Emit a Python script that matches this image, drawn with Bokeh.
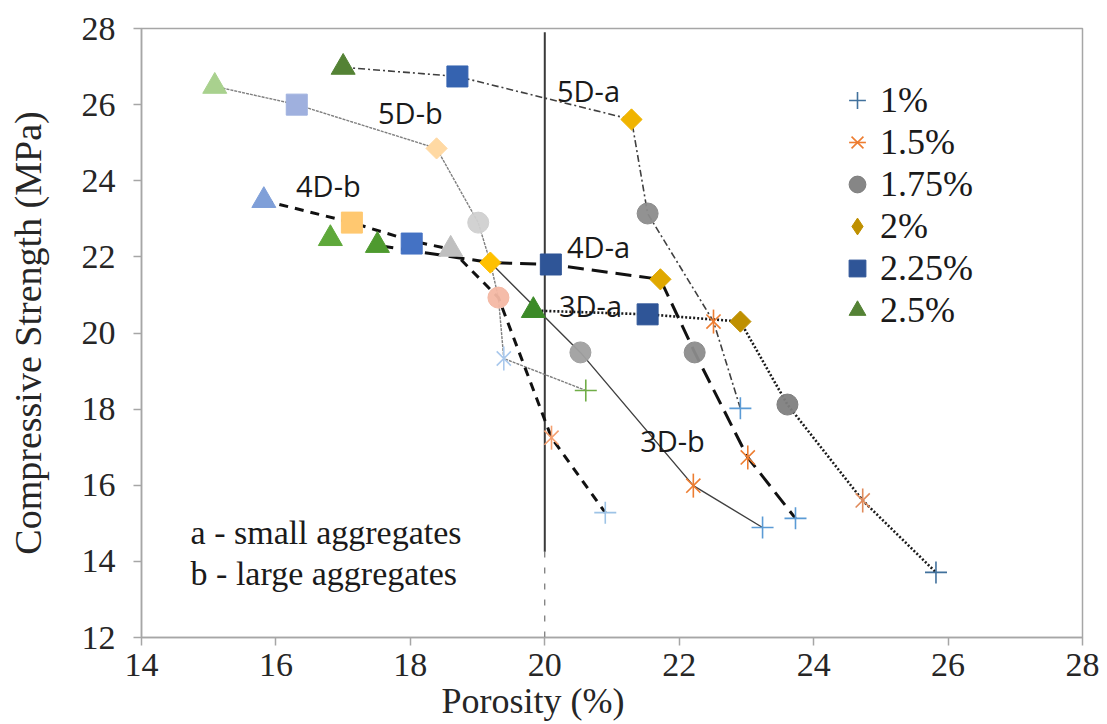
import math
from bokeh.plotting import figure
from bokeh.models import Range1d, Legend, LegendItem, FixedTicker, Title
from bokeh.embed import file_html
from bokeh.resources import INLINE
from bokeh.core.properties import value

# ---------------- data ----------------
x_ticks = [14, 16, 18, 20, 22, 24, 26, 28]
y_ticks = [12, 14, 16, 18, 20, 22, 24, 26, 28]
legend_labels = ["1%", "1.5%", "1.75%", "2%", "2.25%", "2.5%"]

# markers by fibre content (1%: plus, 1.5%: asterisk, 1.75%: circle, 2%: diamond, 2.25%: square, 2.5%: triangle)
plus_x = [20.61, 22.91, 20.90, 23.24, 23.73, 25.82]
plus_y = [18.49, 18.02, 15.28, 14.89, 15.13, 13.71]
ast_x = [19.39, 22.51, 20.10, 22.21, 23.02, 24.73]
ast_y = [19.33, 20.30, 17.25, 15.99, 16.73, 15.60]
circ_x = [19.01, 21.53, 19.31, 20.53, 22.23, 23.61]
circ_y = [22.90, 23.14, 20.93, 19.49, 19.49, 18.12]
dia_x = [18.39, 21.29, 19.19, 21.72, 22.91]
dia_y = [24.85, 25.61, 21.85, 21.41, 20.30]
sq_x = [16.31, 18.70, 17.13, 18.02, 20.09, 21.53]
sq_y = [26.00, 26.74, 22.90, 22.35, 21.80, 20.49]
tri_x = [15.09, 17.00, 15.82, 16.81, 17.51, 18.60, 19.83]
tri_y = [26.48, 26.98, 23.48, 22.48, 22.30, 22.20, 20.59]

# connecting lines per series
s5Da_x = [17.00, 18.70, 21.29, 21.53, 22.51, 22.91]
s5Da_y = [26.98, 26.74, 25.61, 23.14, 20.30, 18.02]
s5Db_x = [15.09, 16.31, 18.39, 19.01, 19.19, 19.31, 19.39, 20.61]
s5Db_y = [26.48, 26.00, 24.85, 22.90, 21.85, 20.93, 19.33, 18.49]
s4Da_x = [17.51, 19.19, 20.09, 21.72, 22.23, 23.02, 23.73]
s4Da_y = [22.30, 21.85, 21.80, 21.41, 19.49, 16.73, 15.13]
s4Db_x = [15.82, 17.13, 18.02, 18.60, 19.31, 20.10, 20.90]
s4Db_y = [23.48, 22.90, 22.42, 22.20, 20.93, 17.25, 15.28]
s3Da_x = [19.83, 21.53, 22.91, 23.61, 24.73, 25.82]
s3Da_y = [20.59, 20.49, 20.30, 18.12, 15.60, 13.71]
s3Db_x = [19.19, 20.53, 22.21, 23.24]
s3Db_y = [21.85, 19.49, 15.99, 14.89]

ref_x = [20, 20]
ref_y_solid = [14.25, 27.9]
ref_y_faint = [12.0, 14.25]

series_labels = ["5D-a", "5D-b", "4D-b", "4D-a", "3D-a", "3D-b"]
series_label_x = [20.65, 18.00, 16.78, 20.80, 20.68, 21.90]
series_label_y = [26.37, 25.80, 23.88, 22.27, 20.72, 17.18]

note_lines = ["a - small aggregates", "b - large aggregates"]
note_x = [14.73, 14.73]
note_y = [14.76, 13.68]

# ---------------- styles ----------------
plus_col = ["#70AD47", "#5B9BD5", "#9DC3E6", "#5B9BD5", "#5B9BD5", "#41719C"]
ast_col = ["#A9C8EC", "#ED7D31", "#F4A070", "#ED7D31", "#ED7D31", "#E08A5A"]
circ_col = ["#D0D0D0", "#8C8C8C", "#F4B8A4", "#A0A0A0", "#8C8C8C", "#7F7F7F"]
dia_col = ["#FFD9A3", "#F0B400", "#FFC000", "#E0A800", "#BF9000"]
sq_col = ["#9FB0DE", "#3563B0", "#FFC870", "#4472C4", "#2F5597", "#2F5597"]
tri_col = ["#A9D18E", "#548235", "#7F9FD8", "#5EA83A", "#4E9A2F", "#BFBFBF", "#3C8A28"]

SERIF = "Liberation Serif"
SANS = "Open Sans"

p = figure(width=1100, height=724, output_backend="svg", toolbar_location=None,
           x_range=Range1d(14, 28), y_range=Range1d(12, 28),
           min_border_left=141, min_border_right=18, min_border_top=28, min_border_bottom=87)
p.xgrid.visible = False
p.ygrid.visible = False
p.outline_line_color = "#a6a6a6"
p.outline_line_width = 1.5
p.background_fill_color = "white"

for ax in (p.xaxis[0], p.yaxis[0]):
    ax.axis_line_color = "#a6a6a6"
    ax.axis_line_width = 1.5
    ax.major_tick_line_color = "#a6a6a6"
    ax.major_tick_line_width = 1.5
    ax.major_tick_out = 8
    ax.major_tick_in = 0
    ax.minor_tick_line_color = None
    ax.major_label_text_font = SERIF
    ax.major_label_text_font_size = "34px"
    ax.major_label_text_color = "#262626"
p.xaxis[0].ticker = FixedTicker(ticks=x_ticks)
p.yaxis[0].ticker = FixedTicker(ticks=y_ticks)
p.xaxis[0].major_label_standoff = 8
p.yaxis[0].major_label_standoff = 18
p.yaxis[0].axis_label = "Compressive Strength (MPa)"
p.yaxis[0].axis_label_text_font = SERIF
p.yaxis[0].axis_label_text_font_size = "38px"
p.yaxis[0].axis_label_text_font_style = "normal"
p.yaxis[0].axis_label_text_color = "#262626"
p.yaxis[0].axis_label_standoff = 30

p.add_layout(Title(text="Porosity (%)", text_font=SERIF, text_font_size="36px", text_font_style="normal",
                   text_color="#262626", align="left", offset=300, standoff=0), "below")

# reference vertical line at 20 %
p.line(ref_x, ref_y_solid, line_color="#3a3a3a", line_width=2)
p.line(ref_x, ref_y_faint, line_color="#555555", line_width=1, line_dash="6 10")

# series lines
p.line(s5Db_x, s5Db_y, line_color="#7f7f7f", line_width=1.4, line_dash="3 1")
p.line(s5Da_x, s5Da_y, line_color="#404040", line_width=1.6, line_dash="7 3 2 3")
p.line(s3Db_x, s3Db_y, line_color="#404040", line_width=1.4)
p.line(s3Da_x, s3Da_y, line_color="#1a1a1a", line_width=2.6, line_dash="2 2")
p.line(s4Db_x, s4Db_y, line_color="#111111", line_width=3, line_dash="9 7")
p.line(s4Da_x, s4Da_y, line_color="#111111", line_width=3, line_dash="16 8")

# markers
r_circ = p.scatter(circ_x, circ_y, marker="circle", size=21, fill_color=circ_col, line_color=circ_col, fill_alpha=0.95)
r_sq = p.scatter(sq_x, sq_y, marker="square", size=21, fill_color=sq_col, line_color=sq_col)
r_dia = p.scatter(dia_x, dia_y, marker="square", angle=math.pi / 4, size=15, fill_color=dia_col, line_color=dia_col)
r_dia_leg = p.scatter(dia_x, dia_y, marker="diamond", size=20, fill_color=dia_col, line_color=dia_col, visible=False)
r_tri = p.scatter(tri_x, tri_y, marker="triangle", size=24, fill_color=tri_col, line_color=tri_col)
r_plus = p.scatter(plus_x, plus_y, marker="cross", size=22, line_color=plus_col, line_width=1.6)
r_astx = p.scatter(ast_x, ast_y, marker="x", size=20, line_color=ast_col, line_width=1.6)
r_astd = p.scatter(ast_x, ast_y, marker="dash", angle=math.pi / 2, size=24, line_color=ast_col, line_width=1.6)

# series labels and notes
p.text(series_label_x, series_label_y, text=series_labels, text_font=value(SANS), text_font_size="29px",
       text_align="center", text_baseline="middle", text_color="#1a1a1a")
p.text(note_x, note_y, text=note_lines, text_font=value(SERIF), text_font_size="34px",
       text_align="left", text_baseline="middle", text_color="#1a1a1a")

# legend
items = [LegendItem(label=legend_labels[0], renderers=[r_plus], index=5),
         LegendItem(label=legend_labels[1], renderers=[r_astx, r_astd], index=1),
         LegendItem(label=legend_labels[2], renderers=[r_circ], index=5),
         LegendItem(label=legend_labels[3], renderers=[r_dia_leg], index=4),
         LegendItem(label=legend_labels[4], renderers=[r_sq], index=5),
         LegendItem(label=legend_labels[5], renderers=[r_tri], index=1)]
legend = Legend(items=items, location=(695, 306), padding=0, margin=0, spacing=0,
                glyph_width=42, glyph_height=42, label_height=42, label_standoff=2,
                label_text_font=SERIF, label_text_font_size="36px", label_text_color="#1a1a1a",
                border_line_color=None, background_fill_alpha=0)
p.add_layout(legend, "center")

open("out.html", "w").write(file_html(p, INLINE))
